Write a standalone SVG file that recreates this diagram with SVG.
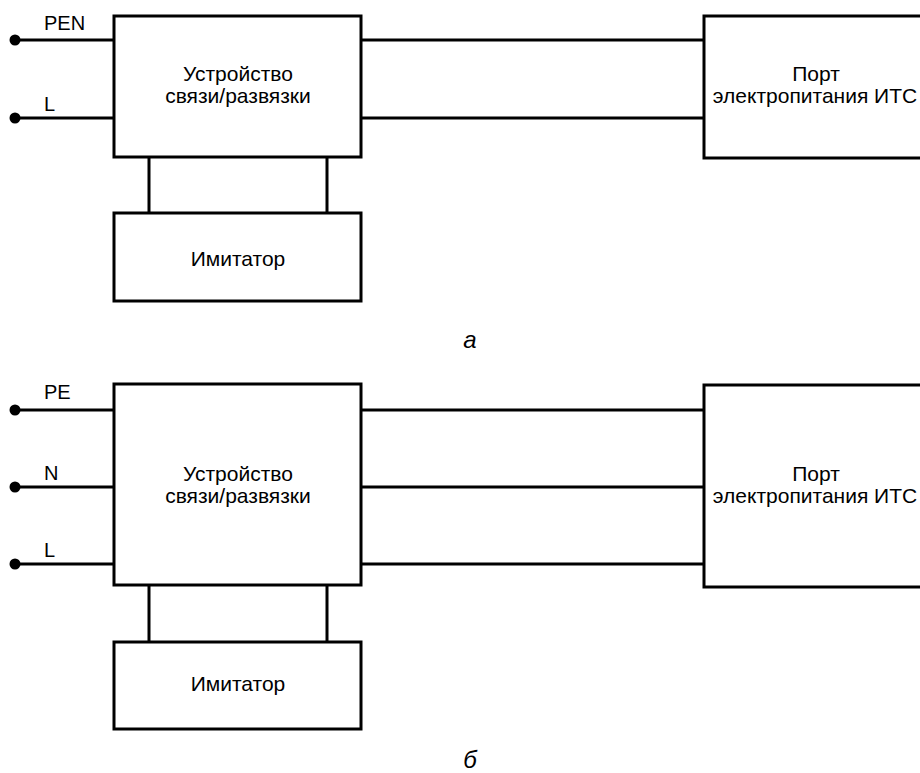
<svg xmlns="http://www.w3.org/2000/svg" width="920" height="773" viewBox="0 0 920 773">
<style>
.box{fill:#fff;stroke:#000;stroke-width:3}
.w{fill:none;stroke:#000;stroke-width:3}
.t{font-family:"Liberation Sans",Arial,sans-serif;font-size:21px;fill:#000}
.l{font-family:"Liberation Sans",Arial,sans-serif;font-size:20px;fill:#000}
.c{text-anchor:middle}
.cap{font-family:"Liberation Sans",Arial,sans-serif;font-size:24px;font-style:italic;text-anchor:middle;fill:#000}
</style>
<rect width="920" height="773" fill="#fff"/>
<g id="connectors">
  <path class="w" d="M15 40H114M15 118H114M361 40H704M361 118H704M149 157V213M327 157V213"/>
  <path class="w" d="M15 410H114M15 487H114M15 564H114M361 410H704M361 487H704M361 564H704M149 585V642M327 585V642"/>
  <circle cx="15" cy="40" r="5.5"/>
  <circle cx="15" cy="118" r="5.5"/>
  <circle cx="15" cy="410" r="5.5"/>
  <circle cx="15" cy="487" r="5.5"/>
  <circle cx="15" cy="564" r="5.5"/>
</g>
<g id="labels-a">
  <text class="l" x="44" y="30">PEN</text>
  <text class="l" x="44" y="111">L</text>
</g>
<g id="coupler-a">
  <rect class="box" x="114" y="16" width="247" height="141"/>
  <text class="t c" x="238" y="81">Устройство</text>
  <text class="t c" x="238" y="103">связи/развязки</text>
</g>
<g id="port-a">
  <rect class="box" x="704" y="16" width="230" height="142"/>
  <text class="t c" x="816" y="81">Порт</text>
  <text class="t c" x="815" y="103">электропитания ИТС</text>
</g>
<g id="imitator-a">
  <rect class="box" x="114" y="213" width="247" height="88"/>
  <text class="t c" x="238" y="266">Имитатор</text>
</g>
<text class="cap" x="470" y="348">а</text>
<g id="labels-b">
  <text class="l" x="44" y="399">PE</text>
  <text class="l" x="44" y="480">N</text>
  <text class="l" x="44" y="557">L</text>
</g>
<g id="coupler-b">
  <rect class="box" x="114" y="384" width="247" height="201"/>
  <text class="t c" x="238" y="481">Устройство</text>
  <text class="t c" x="238" y="503">связи/развязки</text>
</g>
<g id="port-b">
  <rect class="box" x="704" y="385" width="230" height="202"/>
  <text class="t c" x="816" y="481">Порт</text>
  <text class="t c" x="815" y="503">электропитания ИТС</text>
</g>
<g id="imitator-b">
  <rect class="box" x="114" y="642" width="247" height="87"/>
  <text class="t c" x="238" y="691">Имитатор</text>
</g>
<text class="cap" x="470" y="768">б</text>
</svg>
